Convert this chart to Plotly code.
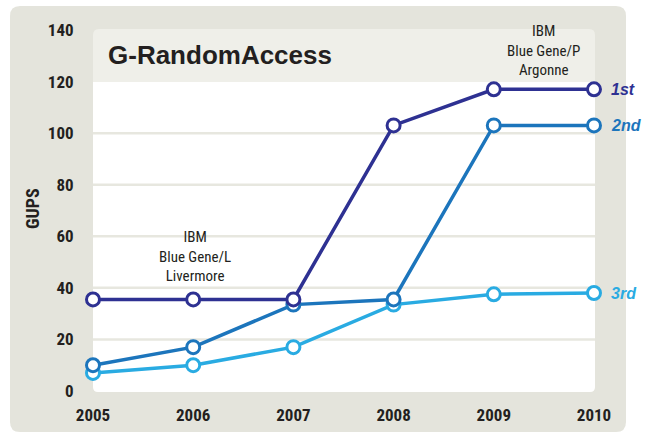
import plotly.graph_objects as go

years = [2005, 2006, 2007, 2008, 2009, 2010]
first = [35.5, 35.5, 35.5, 103, 117, 117]
second = [10, 17, 33.5, 35.5, 103, 103]
third = [7, 10, 17, 33.5, 37.5, 38]
series_names = ["1st", "2nd", "3rd"]
series_colors = ["#2e3192", "#1c75bc", "#29abe2"]
y_ticks = [0, 20, 40, 60, 80, 100, 120, 140]
grid_vals = [20, 40, 60, 80, 100]

W, H = 650, 436
L, R, T, B = 92, 52, 30, 45
PW, PH = W - L - R, H - T - B

def px(x):
    return (x - L) / PW

def py(y):
    return 1 - (y - T) / PH

def rrect(x0, y0, x1, y1, r, top=True, bottom=True):
    X0, X1 = px(x0), px(x1)
    Y0, Y1 = py(y0), py(y1)
    rx, ry = r / PW, r / PH
    p = ""
    if top:
        p += f"M{X0},{Y0-ry} Q{X0},{Y0} {X0+rx},{Y0} L{X1-rx},{Y0} Q{X1},{Y0} {X1},{Y0-ry} "
    else:
        p += f"M{X0},{Y0} L{X1},{Y0} "
    if bottom:
        p += f"L{X1},{Y1+ry} Q{X1},{Y1} {X1-rx},{Y1} L{X0+rx},{Y1} Q{X0},{Y1} {X0},{Y1+ry} Z"
    else:
        p += f"L{X1},{Y1} L{X0},{Y1} Z"
    return p

COND = "Liberation Sans Narrow, Roboto Condensed, DejaVu Sans Condensed, Arial Narrow, sans-serif"
INK = "#231f20"

fig = go.Figure()
# draw 3rd first so 1st is on top
for name, vals, col in reversed(list(zip(series_names, [first, second, third], series_colors))):
    fig.add_trace(go.Scatter(
        x=years, y=vals, mode="lines+markers", name=name,
        line=dict(color=col, width=3.5),
        marker=dict(size=13, color="white", line=dict(color=col, width=3)),
        cliponaxis=False, showlegend=False))
    fig.add_annotation(x=years[-1], y=vals[-1], text=f"<b><i>{name}</i></b>",
                       xanchor="left", yanchor="middle", xshift=15, showarrow=False,
                       font=dict(family="Liberation Sans, Arial, sans-serif", size=16, color=col))

shapes = [
    dict(type="path", xref="paper", yref="paper", path=rrect(10, 6, 626, 432, 10),
         fillcolor="#e4e4dc", line=dict(width=0), layer="below"),
    dict(type="path", xref="paper", yref="paper", path=rrect(93, 82, 595, 392, 5, top=False),
         fillcolor="white", line=dict(width=0), layer="below"),
    dict(type="path", xref="paper", yref="paper", path=rrect(93, 29, 595, 82, 6, bottom=False),
         fillcolor="#efefe9", line=dict(width=0), layer="below"),
]
for g in grid_vals:
    shapes.append(dict(type="line", xref="paper", yref="y", x0=px(93), x1=px(595), y0=g, y1=g,
                       line=dict(color="#e7e7df", width=2.5), layer="below"))

fig.add_annotation(xref="paper", yref="paper", x=px(106), y=py(55), text="<b>G-RandomAccess</b>",
                   xanchor="left", yanchor="middle", showarrow=False,
                   font=dict(family="Liberation Sans, Arial, sans-serif", size=26, color=INK))
fig.add_annotation(x=2006.02, y=52, text="IBM<br>Blue Gene/L<br>Livermore", showarrow=False,
                   xanchor="center", yanchor="middle", align="center",
                   font=dict(family=COND, size=15, color=INK))
fig.add_annotation(xref="x", yref="paper", x=2009.5, y=py(50), text="IBM<br>Blue Gene/P<br>Argonne",
                   showarrow=False, xanchor="center", yanchor="middle", align="center",
                   font=dict(family=COND, size=15, color=INK))
fig.add_annotation(xref="paper", yref="paper", x=px(33), y=py(209), text="<b>GUPS</b>", textangle=-90,
                   showarrow=False, xanchor="center", yanchor="middle",
                   font=dict(family=COND, size=18, color=INK))

fig.update_layout(
    width=W, height=H, margin=dict(l=L, r=R, t=T, b=B),
    paper_bgcolor="white", plot_bgcolor="rgba(0,0,0,0)",
    shapes=shapes,
    xaxis=dict(range=[2004.99, 2010.04], tickvals=years, ticktext=[f"<b>{y}</b>" for y in years],
               showgrid=False, zeroline=False, showline=False, ticks="outside", ticklen=9,
               tickcolor="rgba(0,0,0,0)", tickfont=dict(family=COND, size=17, color=INK)),
    yaxis=dict(range=[0, 140], tickvals=y_ticks, ticktext=[f"<b>{v}</b>" for v in y_ticks],
               showgrid=False, zeroline=False, showline=False, ticks="outside", ticklen=14,
               tickcolor="rgba(0,0,0,0)", tickfont=dict(family=COND, size=17, color=INK)),
)

fig.write_html("out.html")
